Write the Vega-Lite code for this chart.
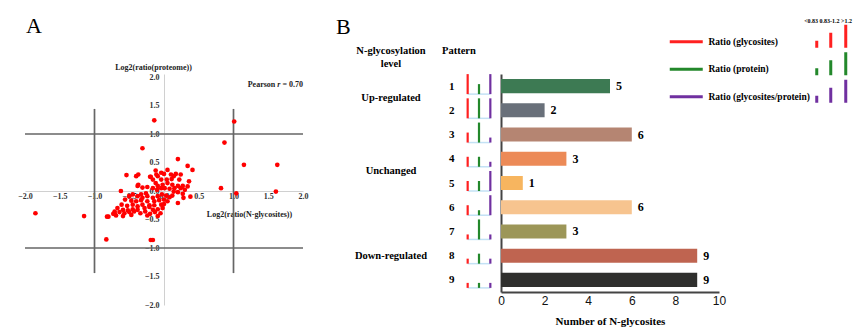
{
  "$schema": "https://vega.github.io/schema/vega-lite/v6.json",
  "padding": {"left": 17, "top": 15, "right": 5, "bottom": 5},
  "autosize": {"type": "pad"},
  "bounds": "flush",
  "spacing": 22,
  "config": {
    "view": {"stroke": null},
    "font": "Liberation Serif",
    "axis": {"grid": false},
    "axisX": {
      "format": ".1f", "labelFont": "Liberation Serif", "labelFontWeight": "bold", "labelFontSize": 8, "labelColor": "#333"
    },
    "title": {"font": "Liberation Serif", "fontWeight": "normal", "fontSize": 22, "anchor": "start", "color": "#000", "frame": "group"}
  },
  "datasets": {
    "patterns": [
      {"pattern": 1, "regulation": "Up-regulated", "count": 5, "glyco": "high", "protein": "mid", "ratio": "high"},
      {"pattern": 2, "regulation": "Up-regulated", "count": 2, "glyco": "high", "protein": "high", "ratio": "high"},
      {"pattern": 3, "regulation": "Unchanged", "count": 6, "glyco": "mid", "protein": "high", "ratio": "low"},
      {"pattern": 4, "regulation": "Unchanged", "count": 3, "glyco": "mid", "protein": "mid", "ratio": "low"},
      {"pattern": 5, "regulation": "Unchanged", "count": 1, "glyco": "mid", "protein": "mid", "ratio": "high"},
      {"pattern": 6, "regulation": "Unchanged", "count": 6, "glyco": "mid", "protein": "low", "ratio": "high"},
      {"pattern": 7, "regulation": "Down-regulated", "count": 3, "glyco": "low", "protein": "high", "ratio": "low"},
      {"pattern": 8, "regulation": "Down-regulated", "count": 9, "glyco": "low", "protein": "mid", "ratio": "low"},
      {"pattern": 9, "regulation": "Down-regulated", "count": 9, "glyco": "low", "protein": "low", "ratio": "low"}
    ],
    "lines": [
      {"x": -2, "x2": 2, "y": 1, "y2": 1},
      {"x": -2, "x2": 2, "y": -1, "y2": -1},
      {"x": -1, "x2": -1, "y": -1.44, "y2": 1.44},
      {"x": 1, "x2": 1, "y": -1.44, "y2": 1.44}
    ],
    "pts": [
      {"x": -1.85, "y": -0.39}, {"x": -1.15, "y": -0.44}, {"x": -0.83, "y": -0.85}, {"x": -0.19, "y": -0.86}, {"x": -0.16, "y": -0.86},
      {"x": -0.14, "y": 1.24}, {"x": -0.31, "y": 0.75}, {"x": 1.01, "y": 1.22}, {"x": 0.87, "y": 0.85}, {"x": 1.15, "y": 0.46},
      {"x": 1.63, "y": 0.46}, {"x": 0.82, "y": 0.05}, {"x": 1.04, "y": -0.04}, {"x": 1.61, "y": -0.01}, {"x": 0.2, "y": 0.56},
      {"x": 0.34, "y": 0.44}, {"x": 0.41, "y": 0.37}, {"x": -0.54, "y": 0.28}, {"x": -0.4, "y": 0.26}, {"x": -0.37, "y": 0.29},
      {"x": -0.82, "y": -0.45}, {"x": -0.8, "y": -0.45}, {"x": 0.36, "y": 0.17}, {"x": 0.38, "y": -0.1}, {"x": -0.62, "y": 0.0},
      {"x": -0.12, "y": 0.36}, {"x": -0.11, "y": 0.29}, {"x": -0.09, "y": 0.26}, {"x": -0.04, "y": 0.32}, {"x": 0.0, "y": 0.3},
      {"x": 0.05, "y": 0.37}, {"x": 0.1, "y": 0.29}, {"x": 0.14, "y": 0.26}, {"x": 0.17, "y": 0.3}, {"x": 0.24, "y": 0.29},
      {"x": -0.2, "y": 0.25}, {"x": -0.16, "y": 0.2}, {"x": -0.04, "y": 0.2}, {"x": 0.04, "y": 0.2}, {"x": 0.11, "y": 0.21},
      {"x": 0.22, "y": 0.2}, {"x": -0.12, "y": 0.14}, {"x": -0.09, "y": 0.09}, {"x": -0.02, "y": 0.11}, {"x": 0.05, "y": 0.14},
      {"x": 0.12, "y": 0.11}, {"x": 0.2, "y": 0.09}, {"x": 0.27, "y": 0.09}, {"x": 0.34, "y": 0.08}, {"x": -0.38, "y": 0.09},
      {"x": -0.31, "y": 0.06}, {"x": -0.24, "y": 0.07}, {"x": -0.16, "y": 0.05}, {"x": -0.1, "y": 0.02}, {"x": -0.04, "y": 0.05},
      {"x": 0.01, "y": 0.05}, {"x": 0.08, "y": 0.04}, {"x": 0.15, "y": 0.05}, {"x": 0.24, "y": 0.05}, {"x": 0.3, "y": 0.02},
      {"x": 0.14, "y": -0.01}, {"x": 0.2, "y": -0.02}, {"x": 0.27, "y": -0.05}, {"x": -0.33, "y": -0.06}, {"x": -0.26, "y": -0.04},
      {"x": -0.45, "y": -0.06}, {"x": -0.5, "y": -0.09}, {"x": -0.38, "y": -0.09}, {"x": -0.31, "y": -0.12}, {"x": -0.24, "y": -0.09},
      {"x": -0.16, "y": -0.12}, {"x": -0.09, "y": -0.09}, {"x": -0.03, "y": -0.06}, {"x": 0.03, "y": -0.08}, {"x": 0.08, "y": -0.11},
      {"x": 0.12, "y": -0.08}, {"x": -0.56, "y": -0.15}, {"x": -0.47, "y": -0.17}, {"x": -0.4, "y": -0.18}, {"x": -0.33, "y": -0.16},
      {"x": -0.24, "y": -0.18}, {"x": -0.14, "y": -0.18}, {"x": -0.07, "y": -0.16}, {"x": 0.0, "y": -0.15}, {"x": 0.05, "y": -0.18},
      {"x": -0.61, "y": -0.24}, {"x": -0.53, "y": -0.26}, {"x": -0.45, "y": -0.24}, {"x": -0.38, "y": -0.27}, {"x": -0.31, "y": -0.24},
      {"x": -0.21, "y": -0.25}, {"x": -0.14, "y": -0.25}, {"x": -0.04, "y": -0.24}, {"x": 0.0, "y": -0.23}, {"x": -0.67, "y": -0.3},
      {"x": -0.59, "y": -0.33}, {"x": -0.52, "y": -0.34}, {"x": -0.45, "y": -0.32}, {"x": -0.38, "y": -0.33}, {"x": -0.28, "y": -0.3},
      {"x": -0.21, "y": -0.28}, {"x": -0.16, "y": -0.33}, {"x": -0.09, "y": -0.32}, {"x": -0.02, "y": -0.3}, {"x": -0.71, "y": -0.36},
      {"x": -0.64, "y": -0.37}, {"x": -0.57, "y": -0.39}, {"x": -0.5, "y": -0.37}, {"x": -0.43, "y": -0.36}, {"x": -0.34, "y": -0.39},
      {"x": -0.27, "y": -0.36}, {"x": -0.2, "y": -0.4}, {"x": -0.13, "y": -0.37}, {"x": -0.05, "y": -0.39}, {"x": -0.47, "y": -0.42},
      {"x": -0.24, "y": -0.43}, {"x": -0.09, "y": -0.44}, {"x": -0.73, "y": -0.4}, {"x": -0.69, "y": -0.43}, {"x": -0.59, "y": -0.44},
      {"x": -0.19, "y": 0.25}, {"x": -0.37, "y": 0.11}, {"x": 0.2, "y": -0.21}, {"x": 0.28, "y": -0.12}, {"x": -0.71, "y": -0.39}
    ]
  },
  "hconcat": [
    {
      "title": {"text": "A", "dx": 1, "offset": 8, "baseline": "alphabetic"},
      "width": 278,
      "height": 231,
      "layer": [
        {
          "encoding": {
            "x": {
              "field": "x", "type": "quantitative",
              "scale": {"domain": [-2, 2], "nice": false, "zero": false},
              "axis": {
                "orient": "bottom", "offset": -114,
                "values": [-2, -1.5, -1, -0.5, 0, 0.5, 1, 1.5, 2],
                "format": ".1f",
                "labelFont": "Liberation Serif", "labelFontWeight": "bold", "labelFontSize": 8, "labelColor": "#333",
                "labelPadding": 1, "labelFlush": false, "labelOverlap": false, "labelSeparation": 0, "ticks": false,
                "domainColor": "#d0d0d0", "domainWidth": 1,
                "title": "Log2(ratio(N-glycosites))", "titleFont": "Liberation Serif", "titleFontSize": 8, "titleFontWeight": "bold",
                "titleColor": "#222", "titleX": 224, "titleY": 23, "titleAlign": "center", "titleBaseline": "middle"
              }
            },
            "y": {
              "field": "y", "type": "quantitative",
              "scale": {"domain": [-2, 2.053], "nice": false, "zero": false},
              "axis": {
                "orient": "left", "offset": -139,
                "values": [-2, -1.5, -1, -0.5, 0, 0.5, 1, 1.5, 2],
                "format": ".1f",
                "labelFont": "Liberation Serif", "labelFontWeight": "bold", "labelFontSize": 8, "labelColor": "#333",
                "labelPadding": 5, "labelOverlap": false, "labelSeparation": 0, "labelFlush": false, "ticks": false,
                "domainColor": "#d0d0d0", "domainWidth": 1,
                "title": "Log2(ratio(proteome))", "titleFont": "Liberation Serif", "titleFontSize": 8, "titleFontWeight": "bold",
                "titleColor": "#222", "titleAngle": 0, "titleX": -11, "titleY": -7, "titleAlign": "center", "titleBaseline": "middle"
              }
            }
          },
          "layer": [
            {
              "data": {"name": "lines"},
              "mark": {"type": "rule", "color": "#666666", "strokeWidth": 1.7},
              "encoding": {"x2": {"field": "x2"}, "y2": {"field": "y2"}}
            },
            {
              "data": {"name": "pts"},
              "mark": {"type": "circle", "color": "#ff0000", "size": 22, "opacity": 1}
            }
          ]
        },
        {
          "data": {"values": [{}]},
          "encoding": {
            "x": {
              "datum": 2, "type": "quantitative",
              "axis": {
                "orient": "bottom", "offset": -114,
                "values": [-2, -1.5, -1, -0.5, 0, 0.5, 1, 1.5, 2],
                "format": ".1f",
                "labelFont": "Liberation Serif", "labelFontWeight": "bold", "labelFontSize": 8, "labelColor": "#333",
                "labelPadding": 1, "labelFlush": false, "labelOverlap": false, "labelSeparation": 0, "ticks": false,
                "domainColor": "#d0d0d0", "domainWidth": 1,
                "title": "Log2(ratio(N-glycosites))", "titleFont": "Liberation Serif", "titleFontSize": 8, "titleFontWeight": "bold",
                "titleColor": "#222", "titleX": 224, "titleY": 23, "titleAlign": "center", "titleBaseline": "middle"
              }
            },
            "y": {
              "datum": 1.86, "type": "quantitative",
              "axis": {
                "orient": "left", "offset": -139,
                "values": [-2, -1.5, -1, -0.5, 0, 0.5, 1, 1.5, 2],
                "format": ".1f",
                "labelFont": "Liberation Serif", "labelFontWeight": "bold", "labelFontSize": 8, "labelColor": "#333",
                "labelPadding": 5, "labelOverlap": false, "labelSeparation": 0, "labelFlush": false, "ticks": false,
                "domainColor": "#d0d0d0", "domainWidth": 1,
                "title": "Log2(ratio(proteome))", "titleFont": "Liberation Serif", "titleFontSize": 8, "titleFontWeight": "bold",
                "titleColor": "#222", "titleAngle": 0, "titleX": -11, "titleY": -7, "titleAlign": "center", "titleBaseline": "middle"
              }
            }
          },
          "layer": [
            {
              "mark": {"type": "text", "align": "right", "baseline": "middle", "font": "Liberation Serif", "fontWeight": "bold", "fontSize": 8, "color": "#222"},
              "encoding": {"text": {"value": "= 0.70"}}
            },
            {
              "mark": {"type": "text", "align": "right", "baseline": "middle", "dx": -22.6, "font": "Liberation Serif", "fontWeight": "bold", "fontStyle": "italic", "fontSize": 8, "color": "#222"},
              "encoding": {"text": {"value": "r"}}
            },
            {
              "mark": {"type": "text", "align": "right", "baseline": "middle", "dx": -27.7, "font": "Liberation Serif", "fontWeight": "bold", "fontSize": 8, "color": "#222"},
              "encoding": {"text": {"value": "Pearson"}}
            }
          ]
        }
      ]
    },
    {
      "title": {"text": "B", "dx": 11, "offset": -10, "baseline": "alphabetic"},
      "bounds": "flush",
      "spacing": 5,
      "hconcat": [
        {
          "width": 132,
          "height": 218,
          "title": {"text": ["N-glycosylation", "level"], "fontSize": 10.5, "fontWeight": "bold", "anchor": "middle", "offset": -5, "lineHeight": 13, "baseline": "bottom"},
          "data": {"name": "patterns"},
          "mark": {"type": "text", "font": "Liberation Serif", "fontWeight": "bold", "fontSize": 10.5, "align": "center", "baseline": "middle", "color": "#000"},
          "encoding": {
            "y": {"aggregate": "mean", "field": "pattern", "type": "quantitative", "scale": {"domain": [0.5, 9.5], "reverse": true, "nice": false, "zero": false}, "axis": null},
            "text": {"field": "regulation"}
          }
        },
        {
          "width": 34,
          "height": 218,
          "title": {"text": "Pattern", "fontSize": 10.5, "fontWeight": "bold", "anchor": "start", "dx": -20, "offset": 3, "baseline": "bottom"},
          "data": {"name": "patterns"},
          "layer": [
            {
              "mark": {"type": "rule", "color": "#c3e2f5", "strokeWidth": 1.5, "yOffset": 8},
              "encoding": {
                "y": {
                  "field": "pattern", "type": "ordinal",
                  "scale": {"type": "point", "padding": 0.5},
                  "axis": {"orient": "left", "domain": false, "ticks": false, "labelPadding": 8, "labelFont": "Liberation Serif", "labelFontWeight": "bold", "labelFontSize": 11, "labelColor": "#000", "title": null}
                },
                "x": {"datum": "glyco", "type": "nominal", "scale": {"type": "point", "domain": ["glyco", "protein", "ratio"], "padding": 0.5}, "axis": null},
                "x2": {"datum": "ratio"}
              }
            },
            {
              "transform": [{"fold": ["glyco", "protein", "ratio"], "as": ["series", "level"]}],
              "mark": {"type": "point", "filled": false, "strokeWidth": 2.2, "size": 4, "opacity": 1},
              "encoding": {
                "y": {"field": "pattern", "type": "ordinal"},
                "x": {"field": "series", "type": "nominal"},
                "shape": {
                  "field": "level", "type": "nominal",
                  "scale": {"domain": ["low", "mid", "high"], "range": ["M0,8V3", "M0,8V-2", "M0,8V-12"]},
                  "legend": null
                },
                "color": {
                  "field": "series", "type": "nominal",
                  "scale": {"domain": ["glyco", "protein", "ratio"], "range": ["#ff2020", "#23882b", "#7030a0"]},
                  "legend": {
                    "orient": "none", "legendX": 640, "legendY": -56,
                    "title": "<0.83 0.83-1.2 >1.2", "titleFont": "Liberation Serif", "titleFontSize": 6, "titleFontWeight": "bold", "titleColor": "#000",
                    "titleAnchor": "end", "titlePadding": 13,
                    "symbolType": "M0,0H33M147,6V-1M161,6V-9M176,6V-17", "symbolSize": 4, "symbolStrokeWidth": 3,
                    "labelFont": "Liberation Serif", "labelFontWeight": "bold", "labelFontSize": 9.5, "labelColor": "#000",
                    "labelOffset": 34, "rowPadding": -8.5, "labelLimit": 300,
                    "labelExpr": "datum.label == 'glyco' ? 'Ratio (glycosites)' : datum.label == 'protein' ? 'Ratio (protein)' : 'Ratio (glycosites/protein)'"
                  }
                }
              }
            }
          ]
        },
        {
          "width": 218,
          "height": 218,
          "data": {"name": "patterns"},
          "layer": [
            {
              "mark": {"type": "bar"},
              "encoding": {
                "y": {
                  "field": "pattern", "type": "ordinal",
                  "scale": {"paddingInner": 0.42, "paddingOuter": 0.21},
                  "axis": {"domainColor": "#444", "domainWidth": 2, "ticks": false, "labels": false, "title": null}
                },
                "x": {
                  "field": "count", "type": "quantitative",
                  "scale": {"domain": [0, 10], "nice": false},
                  "axis": {
                    "values": [0, 2, 4, 6, 8, 10], "format": "d", "grid": false, "ticks": false, "domainColor": "#444", "domainWidth": 2,
                    "labelFont": "Liberation Sans", "labelFontWeight": "normal", "labelFontSize": 12, "labelColor": "#111", "labelPadding": 3, "labelFlush": false,
                    "title": "Number of N-glycosites", "titleFont": "Liberation Serif", "titleFontWeight": "bold", "titleFontSize": 11,
                    "titlePadding": 9, "titleColor": "#000"
                  }
                },
                "fill": {
                  "field": "pattern", "type": "nominal",
                  "scale": {"domain": [1, 2, 3, 4, 5, 6, 7, 8, 9], "range": ["#3d7a53", "#69707a", "#b58572", "#ec8a57", "#f7b55f", "#f7c48f", "#9c9658", "#bf6450", "#2f2f2d"]},
                  "legend": null
                }
              }
            },
            {
              "mark": {"type": "text", "align": "left", "baseline": "middle", "dx": 6, "font": "Liberation Serif", "fontWeight": "bold", "fontSize": 12, "color": "#000"},
              "encoding": {
                "y": {"field": "pattern", "type": "ordinal"},
                "x": {"field": "count", "type": "quantitative"},
                "text": {"field": "count"}
              }
            }
          ]
        }
      ]
    }
  ]
}
